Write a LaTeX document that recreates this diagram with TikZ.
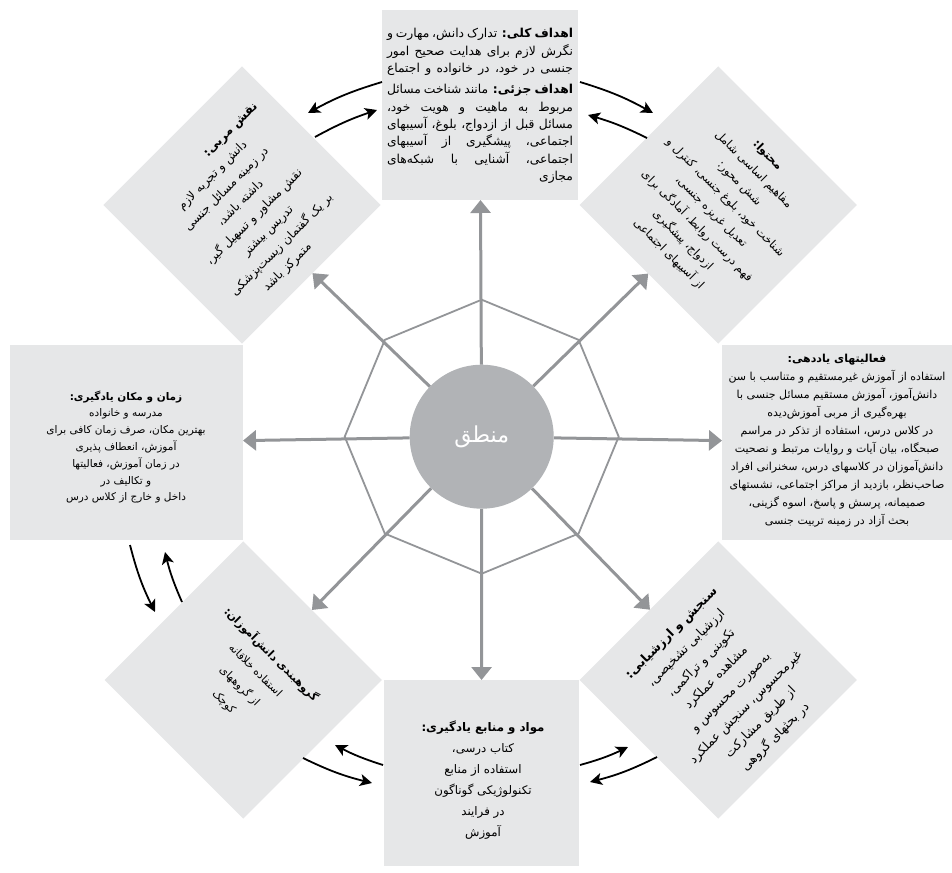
\documentclass[tikz,border=0pt]{standalone}
\usepackage{fontspec}
\usetikzlibrary{shapes.geometric,arrows.meta}
\TeXXeTstate=1
\newfontfamily\fa[Script=Arabic]{DejaVu Sans}
\newcommand\Jtx[1]{\makebox[186pt][s]{#1}}
\definecolor{boxg}{HTML}{E6E7E8}
\definecolor{spk}{HTML}{939598}
\definecolor{circg}{HTML}{B1B3B6}
\begin{document}
\begin{tikzpicture}[x=1pt,y=-1pt,
  rbox/.style={fill=boxg,inner sep=0pt,outer sep=0pt},
  dia/.style={fill=boxg,inner sep=0pt,outer sep=0pt,minimum size=196pt,rotate=45},
  spoke/.style={draw=spk,line width=3pt,-{Triangle[length=13pt,width=20pt]}},
  barc/.style={draw=black,line width=1.8pt,-{Stealth[length=12pt,width=12pt,inset=3pt]}},
  txt/.style={inner sep=0pt,align=center,text=black}]
\useasboundingbox (0,0) rectangle (952,872);
% boxes
\node[rbox,minimum width=196pt,minimum height=190pt] (bT) at (480,105) {};
\node[rbox,minimum width=195pt,minimum height=186pt] (bB) at (481.5,773) {};
\node[rbox,minimum width=233pt,minimum height=195pt] (bL) at (126.5,442.5) {};
\node[rbox,minimum width=230pt,minimum height=195pt] (bR) at (837,442.5) {};
\node[dia] (dTL) at (242,205) {};
\node[dia] (dTR) at (718.3,205) {};
\node[dia] (dBL) at (243.3,680) {};
\node[dia] (dBR) at (718.3,680) {};
% web
\node[regular polygon,regular polygon sides=8,minimum size=274pt,shape border rotate=22.5,
      draw=spk,line width=1.8pt,inner sep=0pt] (web) at (481.7,436.7) {};
\node[circle,fill=circg,minimum size=144pt,inner sep=0pt,text=white,
      font=\fa\fontsize{22}{26}\selectfont] (hub) at (481.7,436.7) {\beginR منطق\endR};
% spokes
\draw[spoke] (hub) -- (bT);
\draw[spoke] (hub) -- (bB);
\draw[spoke] (hub) -- (bL);
\draw[spoke] (hub) -- (bR);
\draw[spoke] (hub) -- (dTL);
\draw[spoke] (hub) -- (dTR);
\draw[spoke] (hub) -- (dBL);
\draw[spoke] (hub) -- (dBR);
% texts
\node[txt,align=right,font=\fa\fontsize{12.3}{17.3}\selectfont] (tT) at (480,106) {%
\Jtx{\beginR \textbf{اهداف کلی:} تدارک دانش، مهارت و\endR}\\
\Jtx{\beginR نگرش لازم برای هدایت صحیح امور\endR}\\
\Jtx{\beginR جنسی در خود، در خانواده و اجتماع\endR}\\[4pt]
\Jtx{\beginR \textbf{اهداف جزئی:} مانند شناخت مسائل\endR}\\
\Jtx{\beginR مربوط به ماهیت و هویت خود،\endR}\\
\Jtx{\beginR مسائل قبل از ازدواج، بلوغ، آسیبهای\endR}\\
\Jtx{\beginR اجتماعی، پیشگیری از آسیبهای\endR}\\
\Jtx{\beginR اجتماعی، آشنایی با شبکه‌های\endR}\\
\beginR مجازی\endR};
\node[txt,font=\fa\fontsize{11}{18}\selectfont] (tR) at (837,441) {%
\beginR \textbf{فعالیتهای یاددهی:}\endR\\
\beginR استفاده از آموزش غیرمستقیم و متناسب با سن\endR\\
\beginR دانش‌آموز، آموزش مستقیم مسائل جنسی با\endR\\
\beginR بهره‌گیری از مربی آموزش‌دیده\endR\\
\beginR در کلاس درس، استفاده از تذکر در مراسم\endR\\
\beginR صبحگاه، بیان آیات و روایات مرتبط و نصحیت\endR\\
\beginR دانش‌آموزان در کلاسهای درس، سخنرانی افراد\endR\\
\beginR صاحب‌نظر، بازدید از مراکز اجتماعی، نشستهای\endR\\
\beginR صمیمانه، پرسش و پاسخ، اسوه گزینی،\endR\\
\beginR بحث آزاد در زمینه تربیت جنسی\endR};
\node[txt,font=\fa\fontsize{10.5}{16.8}\selectfont] (tL) at (126,447) {%
\beginR \textbf{زمان و مکان یادگیری:}\endR\\
\beginR مدرسه و خانواده\endR\\
\beginR بهترین مکان، صرف زمان کافی برای\endR\\
\beginR آموزش، انعطاف پذیری\endR\\
\beginR در زمان آموزش، فعالیتها\endR\\
\beginR و تکالیف در\endR\\
\beginR داخل و خارج از کلاس درس\endR};
\node[txt,font=\fa\fontsize{11.8}{21}\selectfont] (tB) at (483,780) {%
\beginR \textbf{مواد و منابع یادگیری:}\endR\\
\beginR کتاب درسی،\endR\\
\beginR استفاده از منابع\endR\\
\beginR تکنولوژیکی گوناگون\endR\\
\beginR در فرایند\endR\\
\beginR آموزش\endR};
\node[txt,rotate=-45,font=\fa\fontsize{11.5}{20}\selectfont] (tTR) at (718,205) {%
\beginR \textbf{محتوا:}\endR\\
\beginR مفاهیم اساسی شامل\endR\\
\beginR شش محور:\endR\\
\beginR شناخت خود، بلوغ جنسی، کنترل و\endR\\
\beginR تعدیل غریزه جنسی،\endR\\
\beginR فهم درست روابط، آمادگی برای\endR\\
\beginR ازدواج، پیشگیری\endR\\
\beginR از آسیبهای اجتماعی\endR};
\node[txt,rotate=45,font=\fa\fontsize{12}{19.6}\selectfont] (tTL) at (248,211) {%
\hspace*{90pt}\beginR \textbf{نقش مربی:}\endR\\
\beginR دانش و تجربه لازم\endR\\
\beginR در زمینه مسائل جنسی\endR\\
\beginR داشته باشد،\endR\hspace*{24pt}\\
\beginR نقش مشاور و تسهیل گیر،\endR\\
\beginR تدریس بیشتر\endR\hspace*{24pt}\\
\beginR بر یک گفتمان زیست‌پزشکی\endR\\
\beginR متمرکز باشد\endR\hspace*{24pt}};
\node[txt,rotate=45,font=\fa\fontsize{12.5}{21}\selectfont] (tBR) at (723.7,685.4) {%
\beginR \textbf{سنجش و ارزشیابی:}\endR\\
\beginR ارزشیابی تشخیصی،\endR\\
\beginR تکوینی و تراکمی،\endR\\
\beginR مشاهده عملکرد\endR\\
\beginR به‌صورت محسوس و\endR\\
\beginR غیرمحسوس، سنجش عملکرد\endR\\
\beginR از طریق مشارکت\endR\\
\beginR در بحثهای گروهی\endR};
\node[txt,rotate=-45,font=\fa\fontsize{11}{22.2}\selectfont] (tBL) at (248,678) {%
\beginR \textbf{گروهبندی دانش‌آموزان:}\endR\\
\beginR استفاده خلاقانه\endR\\
\beginR از گروههای\endR\\
\beginR کوچک\endR};
% black arcs
\coordinate (a1) at (580,82);  \coordinate (a2) at (653,113);
\coordinate (b1) at (647,138); \coordinate (b2) at (588,115);
\coordinate (c1) at (382,82);  \coordinate (c2) at (308,113);
\coordinate (d1) at (315,137); \coordinate (d2) at (377,110);
\coordinate (e1) at (130,545); \coordinate (e2) at (155,612);
\coordinate (f1) at (182,602); \coordinate (f2) at (165,552);
\coordinate (g1) at (303,758); \coordinate (g2) at (372,783);
\coordinate (h1) at (383,765); \coordinate (h2) at (335,745);
\coordinate (i1) at (580,765); \coordinate (i2) at (628,747);
\coordinate (j1) at (657,757); \coordinate (j2) at (590,782);
\draw[barc] (a1) to[bend left=6] (a2);
\draw[barc] (b1) to[bend right=5] (b2);
\draw[barc] (c1) to[bend right=6] (c2);
\draw[barc] (d1) to[bend left=5] (d2);
\draw[barc] (e1) to[bend right=6] (e2);
\draw[barc] (f1) to[bend left=5] (f2);
\draw[barc] (g1) to[bend right=6] (g2);
\draw[barc] (h1) to[bend left=5] (h2);
\draw[barc] (i1) to[bend right=5] (i2);
\draw[barc] (j1) to[bend left=6] (j2);
\end{tikzpicture}
\end{document}
